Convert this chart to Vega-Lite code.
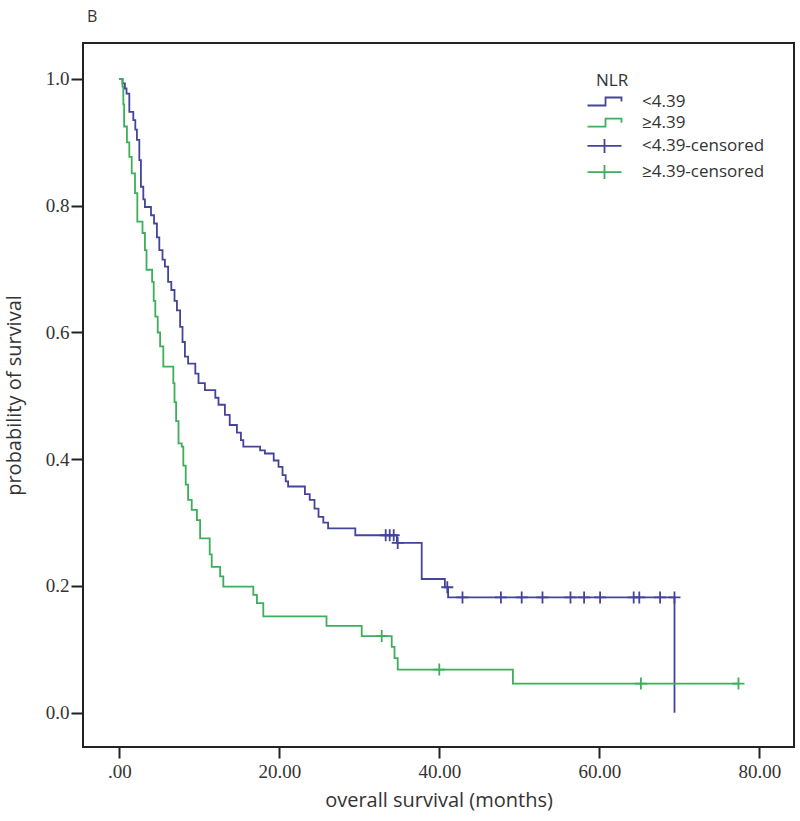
{
  "$schema": "https://vega.github.io/schema/vega-lite/v6.json",
  "width": 711,
  "height": 704,
  "autosize": "none",
  "padding": {"left": 83, "top": 43, "right": 6, "bottom": 74},
  "background": "white",
  "title": {"text": "B", "anchor": "start", "frame": "group", "offset": 18, "dx": 4, "fontSize": 16, "font": "Open Sans", "fontWeight": "normal", "color": "#333333"},
  "config": {
    "view": {"stroke": "#222222", "strokeWidth": 2},
    "axis": {"grid": false, "domain": false, "labelFlush": false, "labelOverlap": false, "tickColor": "#222222", "tickWidth": 2, "labelColor": "#333333", "titleColor": "#333333", "labelFont": "Liberation Serif", "labelFontSize": 19, "titleFont": "Open Sans", "titleFontSize": 20, "titleFontWeight": "normal"},
    "legend": {
      "orient": "none", "legendX": 513, "legendY": 30,
      "padding": 0,
      "symbolSize": 144, "symbolStrokeWidth": 1.8,
      "labelFont": "Open Sans", "labelFontSize": 17, "labelColor": "#333333", "labelOffset": 29,
      "titleFont": "Open Sans", "titleFontSize": 17, "titleFontWeight": "normal", "titleColor": "#333333", "titlePadding": 3,
      "rowPadding": 3.2
    }
  },
  "datasets": {
    "curves": [
      {"series": "<4.39", "t": 0, "s": 1.0},
      {"series": "<4.39", "t": 0.4, "s": 0.993},
      {"series": "<4.39", "t": 0.7, "s": 0.985},
      {"series": "<4.39", "t": 0.9, "s": 0.977},
      {"series": "<4.39", "t": 1.25, "s": 0.948},
      {"series": "<4.39", "t": 1.75, "s": 0.935},
      {"series": "<4.39", "t": 2.0, "s": 0.92},
      {"series": "<4.39", "t": 2.2, "s": 0.904},
      {"series": "<4.39", "t": 2.5, "s": 0.872},
      {"series": "<4.39", "t": 2.7, "s": 0.83},
      {"series": "<4.39", "t": 3.0, "s": 0.81},
      {"series": "<4.39", "t": 3.2, "s": 0.798},
      {"series": "<4.39", "t": 3.96, "s": 0.785},
      {"series": "<4.39", "t": 4.34, "s": 0.772},
      {"series": "<4.39", "t": 4.7, "s": 0.75},
      {"series": "<4.39", "t": 5.0, "s": 0.73},
      {"series": "<4.39", "t": 5.4, "s": 0.715},
      {"series": "<4.39", "t": 5.7, "s": 0.704},
      {"series": "<4.39", "t": 6.1, "s": 0.68},
      {"series": "<4.39", "t": 6.5, "s": 0.667},
      {"series": "<4.39", "t": 6.9, "s": 0.65},
      {"series": "<4.39", "t": 7.2, "s": 0.635},
      {"series": "<4.39", "t": 7.6, "s": 0.609},
      {"series": "<4.39", "t": 7.9, "s": 0.585},
      {"series": "<4.39", "t": 8.2, "s": 0.562},
      {"series": "<4.39", "t": 8.6, "s": 0.551},
      {"series": "<4.39", "t": 9.5, "s": 0.535},
      {"series": "<4.39", "t": 9.9, "s": 0.52},
      {"series": "<4.39", "t": 10.7, "s": 0.509},
      {"series": "<4.39", "t": 12.0, "s": 0.497},
      {"series": "<4.39", "t": 12.4, "s": 0.486},
      {"series": "<4.39", "t": 13.2, "s": 0.47},
      {"series": "<4.39", "t": 13.8, "s": 0.454},
      {"series": "<4.39", "t": 14.7, "s": 0.442},
      {"series": "<4.39", "t": 15.2, "s": 0.43},
      {"series": "<4.39", "t": 15.5, "s": 0.42},
      {"series": "<4.39", "t": 17.6, "s": 0.414},
      {"series": "<4.39", "t": 18.2, "s": 0.409},
      {"series": "<4.39", "t": 19.3, "s": 0.398},
      {"series": "<4.39", "t": 19.9, "s": 0.388},
      {"series": "<4.39", "t": 20.4, "s": 0.375},
      {"series": "<4.39", "t": 20.8, "s": 0.365},
      {"series": "<4.39", "t": 21.1, "s": 0.357},
      {"series": "<4.39", "t": 23.2, "s": 0.345},
      {"series": "<4.39", "t": 23.8, "s": 0.336},
      {"series": "<4.39", "t": 24.4, "s": 0.322},
      {"series": "<4.39", "t": 24.9, "s": 0.309},
      {"series": "<4.39", "t": 25.5, "s": 0.3},
      {"series": "<4.39", "t": 26.1, "s": 0.291},
      {"series": "<4.39", "t": 29.5, "s": 0.28},
      {"series": "<4.39", "t": 34.7, "s": 0.268},
      {"series": "<4.39", "t": 37.8, "s": 0.211},
      {"series": "<4.39", "t": 40.7, "s": 0.198},
      {"series": "<4.39", "t": 41.1, "s": 0.182},
      {"series": "<4.39", "t": 69.4, "s": 0.0},
      {"series": "≥4.39", "t": 0, "s": 1.0},
      {"series": "≥4.39", "t": 0.4, "s": 0.988},
      {"series": "≥4.39", "t": 0.5, "s": 0.96},
      {"series": "≥4.39", "t": 0.6, "s": 0.925},
      {"series": "≥4.39", "t": 0.95, "s": 0.9},
      {"series": "≥4.39", "t": 1.25, "s": 0.877},
      {"series": "≥4.39", "t": 1.55, "s": 0.851},
      {"series": "≥4.39", "t": 1.96, "s": 0.82},
      {"series": "≥4.39", "t": 2.25, "s": 0.775},
      {"series": "≥4.39", "t": 2.9, "s": 0.757},
      {"series": "≥4.39", "t": 3.2, "s": 0.73},
      {"series": "≥4.39", "t": 3.4, "s": 0.699},
      {"series": "≥4.39", "t": 4.1, "s": 0.68},
      {"series": "≥4.39", "t": 4.3, "s": 0.65},
      {"series": "≥4.39", "t": 4.5, "s": 0.625},
      {"series": "≥4.39", "t": 4.8, "s": 0.6},
      {"series": "≥4.39", "t": 5.1, "s": 0.578},
      {"series": "≥4.39", "t": 5.5, "s": 0.546},
      {"series": "≥4.39", "t": 6.75, "s": 0.52},
      {"series": "≥4.39", "t": 6.9, "s": 0.49},
      {"series": "≥4.39", "t": 7.1, "s": 0.46},
      {"series": "≥4.39", "t": 7.4, "s": 0.425},
      {"series": "≥4.39", "t": 7.8, "s": 0.42},
      {"series": "≥4.39", "t": 8.0, "s": 0.39},
      {"series": "≥4.39", "t": 8.3, "s": 0.36},
      {"series": "≥4.39", "t": 8.6, "s": 0.336},
      {"series": "≥4.39", "t": 9.05, "s": 0.32},
      {"series": "≥4.39", "t": 9.7, "s": 0.304},
      {"series": "≥4.39", "t": 10.1, "s": 0.275},
      {"series": "≥4.39", "t": 11.3, "s": 0.25},
      {"series": "≥4.39", "t": 11.55, "s": 0.23},
      {"series": "≥4.39", "t": 12.6, "s": 0.215},
      {"series": "≥4.39", "t": 13.0, "s": 0.199},
      {"series": "≥4.39", "t": 16.75, "s": 0.186},
      {"series": "≥4.39", "t": 17.2, "s": 0.173},
      {"series": "≥4.39", "t": 18.0, "s": 0.152},
      {"series": "≥4.39", "t": 25.9, "s": 0.137},
      {"series": "≥4.39", "t": 30.3, "s": 0.121},
      {"series": "≥4.39", "t": 34.05, "s": 0.104},
      {"series": "≥4.39", "t": 34.4, "s": 0.086},
      {"series": "≥4.39", "t": 34.8, "s": 0.068},
      {"series": "≥4.39", "t": 49.2, "s": 0.046},
      {"series": "≥4.39", "t": 77.4, "s": 0.046}
    ],
    "censors": [
      {"series": "<4.39-censored", "t": 33.3, "s": 0.28},
      {"series": "<4.39-censored", "t": 33.8, "s": 0.28},
      {"series": "<4.39-censored", "t": 34.3, "s": 0.28},
      {"series": "<4.39-censored", "t": 34.8, "s": 0.268},
      {"series": "<4.39-censored", "t": 41.0, "s": 0.198},
      {"series": "<4.39-censored", "t": 42.9, "s": 0.182},
      {"series": "<4.39-censored", "t": 47.7, "s": 0.182},
      {"series": "<4.39-censored", "t": 50.3, "s": 0.182},
      {"series": "<4.39-censored", "t": 52.9, "s": 0.182},
      {"series": "<4.39-censored", "t": 56.4, "s": 0.182},
      {"series": "<4.39-censored", "t": 58.1, "s": 0.182},
      {"series": "<4.39-censored", "t": 60.1, "s": 0.182},
      {"series": "<4.39-censored", "t": 64.3, "s": 0.182},
      {"series": "<4.39-censored", "t": 65.0, "s": 0.182},
      {"series": "<4.39-censored", "t": 67.6, "s": 0.182},
      {"series": "<4.39-censored", "t": 69.4, "s": 0.182},
      {"series": "≥4.39-censored", "t": 32.8, "s": 0.121},
      {"series": "≥4.39-censored", "t": 40.0, "s": 0.068},
      {"series": "≥4.39-censored", "t": 65.2, "s": 0.046},
      {"series": "≥4.39-censored", "t": 77.4, "s": 0.046}
    ]
  },
  "layer": [
    {
      "data": {"name": "curves"},
      "mark": {"type": "line", "interpolate": "step-after", "strokeWidth": 1.8, "clip": true},
      "encoding": {
        "x": {"field": "t", "type": "quantitative", "scale": {"domain": [-4.54, 84.34], "nice": false, "zero": false},
          "axis": {"values": [0, 20, 40, 60, 80], "labelExpr": "datum.value == 0 ? '.00' : format(datum.value, '.2f')", "title": "overall survival (months)", "tickSize": 11, "labelPadding": 4, "titlePadding": 9}},
        "y": {"field": "s", "type": "quantitative", "scale": {"domain": [-0.0541, 1.0568], "nice": false, "zero": false},
          "axis": {"values": [0, 0.2, 0.4, 0.6, 0.8, 1.0], "format": ".1f", "title": "probability of survival", "tickSize": 12, "labelPadding": 2, "titlePadding": 21}},
        "color": {"field": "series", "type": "nominal",
          "scale": {"domain": ["<4.39", "≥4.39", "<4.39-censored", "≥4.39-censored"], "range": ["#45449b", "#3daf5a", "#45449b", "#3daf5a"]},
          "legend": {
            "title": "\u2003\u2003\u2002NLR",
            "encode": {"symbols": {"update": {
              "shape": {"signal": "indexof(datum.value, 'censored') >= 0 ? 'M-2.83,0H2.83M0,-1.17V1.17' : 'M-2.83,0.67H0.17V-0.67H2.83V0'"},
              "fill": {"value": "transparent"},
              "stroke": {"scale": "color", "field": "value"},
              "strokeWidth": {"value": 1.8}
            }}}
          }}
      }
    },
    {
      "data": {"name": "censors"},
      "mark": {"type": "point", "shape": "M-1,0H1M0,-1V1", "size": 144, "filled": false, "strokeWidth": 1.8, "opacity": 1, "clip": true},
      "encoding": {
        "x": {"field": "t", "type": "quantitative"},
        "y": {"field": "s", "type": "quantitative"},
        "color": {"field": "series", "type": "nominal",
          "legend": {
            "title": "\u2003\u2003\u2002NLR",
            "encode": {"symbols": {"update": {
              "shape": {"signal": "indexof(datum.value, 'censored') >= 0 ? 'M-2.83,0H2.83M0,-1.17V1.17' : 'M-2.83,0.67H0.17V-0.67H2.83V0'"},
              "fill": {"value": "transparent"},
              "stroke": {"scale": "color", "field": "value"},
              "strokeWidth": {"value": 1.8}
            }}}
          }}
      }
    }
  ]
}
